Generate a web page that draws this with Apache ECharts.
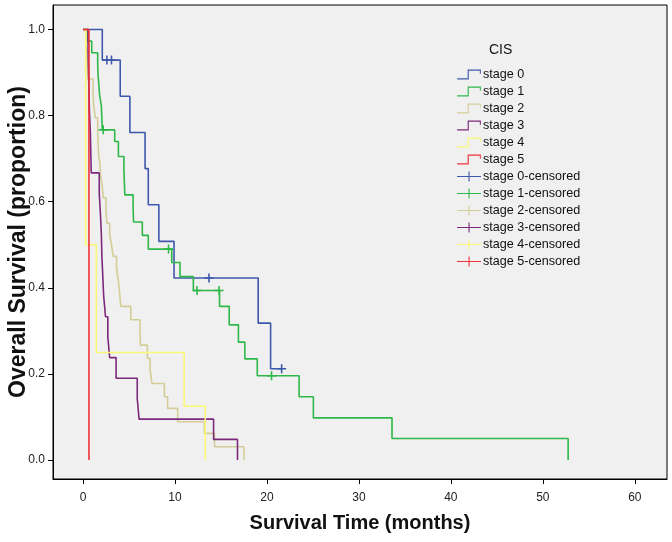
<!DOCTYPE html>
<html>
<head>
<meta charset="utf-8">
<script src="https://cdn.jsdelivr.net/npm/echarts@6/dist/echarts.min.js"></script>
<style>
html,body{margin:0;padding:0;background:#fff;}
#chart{width:672px;height:542px;}
</style>
</head>
<body>
<div id="chart"></div>
<script>
// ---- data (time in months, survival proportion) ----
const stageNames = ['stage 0', 'stage 1', 'stage 2', 'stage 3', 'stage 4', 'stage 5'];
const censorNames = ['stage 0-censored', 'stage 1-censored', 'stage 2-censored', 'stage 3-censored', 'stage 4-censored', 'stage 5-censored'];

const stage0T = [0, 2.1, 4.05, 5.1, 6.75, 7.1, 8.25, 9.9, 19.05, 20.4, 21.6];
const stage0S = [1, 0.929, 0.845, 0.761, 0.677, 0.593, 0.508, 0.423, 0.318, 0.212, 0.212];

const stage1T = [0, 0.5, 0.95, 1.6, 1.65, 1.75, 1.8, 2.0, 2.05, 2.1, 3.45, 3.85, 4.45, 4.5, 4.55, 5.45, 5.5, 6.45, 7.1, 9.65, 10.55, 12.0, 14.85, 15.9, 16.9, 17.6, 18.95, 23.5, 25.05, 33.6, 52.75];
const stage1S = [1, 0.973, 0.946, 0.919, 0.892, 0.865, 0.849, 0.822, 0.795, 0.767, 0.740, 0.705, 0.675, 0.645, 0.616, 0.585, 0.553, 0.522, 0.490, 0.459, 0.426, 0.394, 0.357, 0.314, 0.274, 0.235, 0.196, 0.147, 0.098, 0.050, 0];

const stage2T = [0, 0.3, 0.45, 0.5, 0.55, 1.1, 1.15, 1.35, 1.6, 1.65, 1.7, 1.85, 1.9, 2.1, 2.2, 2.5, 2.6, 2.9, 3.1, 3.3, 3.65, 3.85, 4.0, 4.1, 5.2, 6.2, 6.25, 7.0, 7.3, 7.5, 8.85, 9.2, 10.3, 13.2, 14.3, 17.5];
const stage2S = [1, 0.97, 0.94, 0.91, 0.885, 0.855, 0.826, 0.795, 0.765, 0.735, 0.709, 0.686, 0.663, 0.636, 0.609, 0.58, 0.55, 0.525, 0.5, 0.473, 0.445, 0.415, 0.385, 0.357, 0.326, 0.296, 0.267, 0.236, 0.209, 0.178, 0.147, 0.12, 0.089, 0.062, 0.031, 0];

const stage3T = [0, 0.55, 0.6, 0.65, 0.7, 0.8, 0.85, 0.9, 1.77, 1.9, 2.0, 2.05, 2.15, 2.25, 2.45, 2.7, 2.9, 3.6, 5.9, 6.1, 14.2, 16.8];
const stage3S = [1, 0.952, 0.905, 0.857, 0.81, 0.762, 0.714, 0.667, 0.619, 0.571, 0.524, 0.476, 0.429, 0.381, 0.333, 0.286, 0.238, 0.19, 0.143, 0.095, 0.048, 0];

const stage4T = [0, 0.3, 1.45, 11.0, 13.3];
const stage4S = [1, 0.5, 0.25, 0.125, 0];

const stage5T = [0, 0.65];
const stage5S = [1, 0];

const censor0T = [2.6, 3.1, 13.7, 21.6];
const censor0S = [0.929, 0.929, 0.423, 0.212];
const censor1T = [2.2, 9.3, 12.4, 14.8, 20.5];
const censor1S = [0.767, 0.490, 0.394, 0.394, 0.196];

const xTicks = [0, 10, 20, 30, 40, 50, 60];
const yTicks = [0, 0.2, 0.4, 0.6, 0.8, 1.0];

// ---- styling ----
const colors = ['#3E58AC', '#2EB848', '#D3CE97', '#7C287D', '#FBF873', '#EF3338'];
const curveT = [stage0T, stage1T, stage2T, stage3T, stage4T, stage5T];
const curveS = [stage0S, stage1S, stage2S, stage3S, stage4S, stage5S];
const censT = [censor0T, censor1T, [], [], [], []];
const censS = [censor0S, censor1S, [], [], [], []];

const FONT = 'Liberation Sans, Arial, sans-serif';
const zip = (a, b) => a.map((v, i) => [v, b[i]]);
const plusPath = 'path://M3.3,0H4.7V3.3H8V4.7H4.7V8H3.3V4.7H0V3.3H3.3Z';
const stepIcon = 'path://M0,8.6H10.2V0H23V4.2H22V1.1H11.3V9.7H0Z';
const crossIcon = 'path://M0,4.4H11.5V0H12.6V4.4H24V5.5H12.6V10H11.5V5.5H0Z';

const series = [];
for (let i = 0; i < 6; i++) {
  series.push({
    name: stageNames[i], type: 'line', step: 'end', showSymbol: false, symbol: 'none',
    data: zip(curveT[i], curveS[i]),
    lineStyle: { color: colors[i], width: 1.6 }, itemStyle: { color: colors[i] },
    z: 2 + i, animation: false, silent: true
  });
}
for (let i = 0; i < 6; i++) {
  series.push({
    name: censorNames[i], type: 'scatter', symbol: plusPath, symbolSize: 9,
    data: zip(censT[i], censS[i]),
    itemStyle: { color: colors[i], opacity: 1 }, z: 10, animation: false, silent: true
  });
}

const legendData = stageNames.map(n => ({ name: n, icon: stepIcon }))
  .concat(censorNames.map(n => ({ name: n, icon: crossIcon })));

const chart = echarts.init(document.getElementById('chart'), null, { renderer: 'canvas' });
chart.setOption({
  animation: false,
  backgroundColor: '#ffffff',
  color: colors,
  title: {
    text: 'CIS', left: 489, top: 43, padding: 0,
    textStyle: { fontFamily: FONT, fontSize: 14, fontWeight: 'normal', color: '#111' }
  },
  legend: {
    orient: 'vertical', left: 457, top: 68, padding: 0, itemWidth: 24, itemHeight: 10, itemGap: 4,
    data: legendData,
    textStyle: { fontFamily: FONT, fontSize: 12.6, color: '#111', padding: [0, 0, 0, -3] },
    itemStyle: { borderWidth: 0 },
    lineStyle: { width: 0 },
    selectedMode: false
  },
  grid: {
    left: 53, right: 5, top: 5, bottom: 63, show: true, outerBoundsMode: 'none', containLabel: false,
    backgroundColor: '#f0f0f0', borderColor: '#000', borderWidth: 1
  },
  xAxis: {
    type: 'value', min: -3.26, max: 63.5,
    name: 'Survival Time (months)', nameLocation: 'middle', nameGap: 34,
    nameTextStyle: { fontFamily: FONT, fontSize: 20, fontWeight: 'bold', color: '#111' },
    axisLine: { show: true, onZero: false, lineStyle: { color: '#000', width: 1 } },
    axisTick: { show: true, length: 5, customValues: xTicks, lineStyle: { color: '#000' } },
    axisLabel: { customValues: xTicks, fontFamily: FONT, fontSize: 12, color: '#222', margin: 13 },
    splitLine: { show: false }
  },
  yAxis: {
    type: 'value', min: -0.044, max: 1.057,
    name: 'Overall Survival (proportion)', nameLocation: 'middle', nameGap: 23, nameRotate: 90,
    nameMoveOverlap: false,
    nameTextStyle: { fontFamily: FONT, fontSize: 23, fontWeight: 'bold', color: '#111' },
    axisLine: { show: true, onZero: false, lineStyle: { color: '#000', width: 1 } },
    axisTick: { show: true, length: 5, customValues: yTicks, lineStyle: { color: '#000' } },
    axisLabel: { customValues: yTicks, formatter: v => v.toFixed(1), fontFamily: FONT, fontSize: 12, color: '#222', margin: 8 },
    splitLine: { show: false }
  },
  series: series
});
</script>
</body>
</html>
